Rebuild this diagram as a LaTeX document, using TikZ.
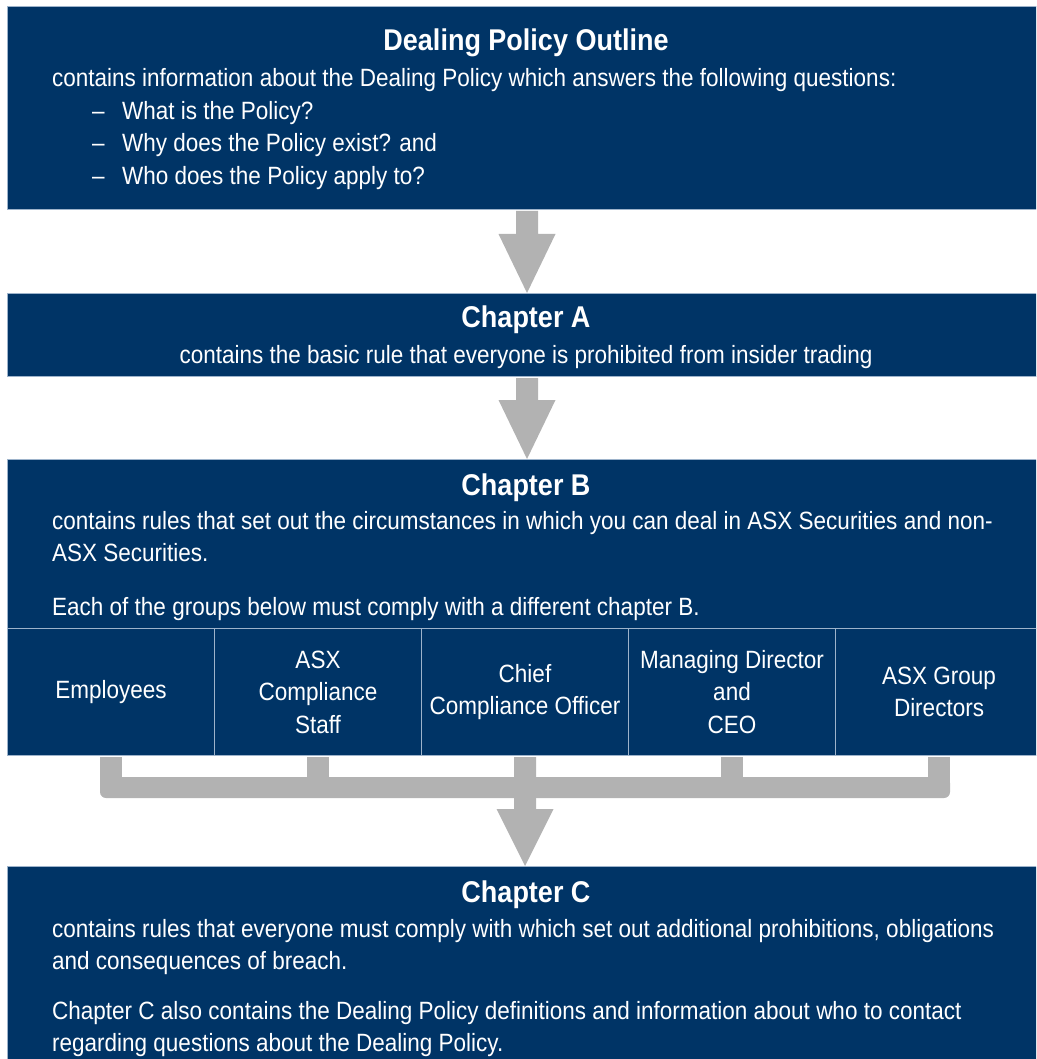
\documentclass[tikz,border=0pt]{standalone}
\usepackage{fontspec}
\setmainfont{Liberation Sans}[FakeStretch=0.9]
\usetikzlibrary{calc}
\definecolor{navy}{HTML}{003466}
\definecolor{edge}{HTML}{9DB3CB}
\definecolor{agray}{HTML}{B2B2B2}
\newcommand\blockarrow[3]{%
  \fill[agray] let \p1=(#1), \p2=(#2) in
    (\x2-11pt,\y1-1pt) -- (\x2+11pt,\y1-1pt) -- (\x2+11pt,\y2+#3) -- (\x2+28.5pt,\y2+#3)
    -- (\x2,\y2) -- (\x2-28.5pt,\y2+#3) -- (\x2-11pt,\y2+#3) -- cycle;}
\begin{document}
\begin{tikzpicture}[x=1pt,y=-1pt,
  box/.style={draw=edge, line width=1pt, fill=navy, rectangle, inner sep=0pt, anchor=north west},
  body/.style={text=white, font=\fontsize{25}{32.5}\selectfont, inner sep=0pt},
  head/.style={text=white, font=\fontsize{30}{34}\selectfont\bfseries, inner sep=0pt},
  grp/.style={draw=edge, line width=1pt, fill=navy, rectangle, minimum width=207pt,
    minimum height=127pt, inner sep=0pt, anchor=north west, text=white, align=center,
    font=\fontsize{25}{32.5}\selectfont}]
\useasboundingbox (0,0) rectangle (1036,1059);
\clip (0,0) rectangle (1036,1059);
% boxes
\node[box, minimum width=1039pt, minimum height=203pt] (outline) at (7,6) {};
\node[box, minimum width=1039pt, minimum height=83pt] (chapA) at (7,293) {};
\node[box, minimum width=1039pt, minimum height=169pt] (chapB) at (7,459) {};
\node[grp] (g1) at (7,628) {Employees};
\node[grp] (g2) at (214,628) {ASX\\Compliance\\Staff};
\node[grp] (g3) at (421,628) {Chief\\Compliance Officer};
\node[grp] (g4) at (628,628) {Managing Director\\and\\CEO};
\node[grp] (g5) at (835,628) {ASX Group\\Directors};
\node[box, minimum width=1039pt, minimum height=210pt] (chapC) at (7,866) {};
% arrows
\blockarrow{outline.south}{chapA.north}{59pt}
\blockarrow{chapA.south}{chapB.north}{59pt}
\fill[agray, rounded corners=6pt] let \p1=(g1.south), \p2=(g5.south) in
  (\x1-11pt,\y1-21pt) rectangle (\x2+11pt,\y1-42pt);
\foreach \g in {g1,g5} {
  \fill[agray] let \p1=(\g.south) in (\x1-11pt,\y1-1pt) rectangle (\x1+11pt,\y1-35pt);}
\foreach \g in {g2,g4} {
  \fill[agray] let \p1=(\g.south) in (\x1-11pt,\y1-1pt) rectangle (\x1+11pt,\y1-25pt);}
\blockarrow{g3.south}{g3.south |- chapC.north}{57pt}
% texts: outline
\node[head, anchor=base] (h0) at (526,51) {Dealing Policy Outline};
\node[body, anchor=base west] (b0) at (52,87) {contains information about the Dealing Policy which answers the following questions:};
\node[body, anchor=base west] (d1) at (92,120) {–};
\node[body, anchor=base west] (q1) at (122,120) {What is the Policy?};
\node[body, anchor=base west] (d2) at (92,152) {–};
\node[body, anchor=base west] (q2) at (122,152) {Why does the Policy exist? and};
\node[body, anchor=base west] (d3) at (92,185) {–};
\node[body, anchor=base west] (q3) at (122,185) {Who does the Policy apply to?};
% chapter A
\node[head, anchor=base] (hA) at (526,327) {Chapter A};
\node[body, anchor=base] (bA) at (526,363) {contains the basic rule that everyone is prohibited from insider trading};
% chapter B
\node[head, anchor=base] (hB) at (526,495) {Chapter B};
\node[body, anchor=base west] (bB1) at (52,529) {contains rules that set out the circumstances in which you can deal in ASX Securities and non-};
\node[body, anchor=base west] (bB2) at (52,561) {ASX Securities.};
\node[body, anchor=base west] (bB3) at (52,615) {Each of the groups below must comply with a different chapter B.};
% chapter C
\node[head, anchor=base] (hC) at (526,902) {Chapter C};
\node[body, anchor=base west] (bC1) at (52,937) {contains rules that everyone must comply with which set out additional prohibitions, obligations};
\node[body, anchor=base west] (bC2) at (52,969) {and consequences of breach.};
\node[body, anchor=base west] (bC3) at (52,1019) {Chapter C also contains the Dealing Policy definitions and information about who to contact};
\node[body, anchor=base west] (bC4) at (52,1051) {regarding questions about the Dealing Policy.};
\end{tikzpicture}
\end{document}
